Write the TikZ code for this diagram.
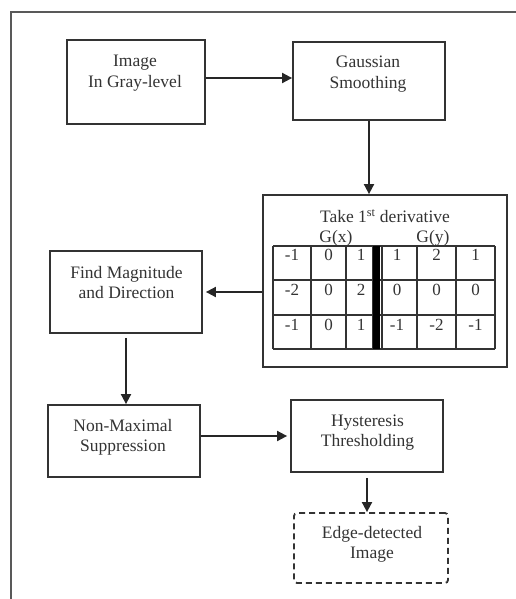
\documentclass[tikz,border=0pt]{standalone}
\usepackage{fontspec}
\setmainfont{Liberation Serif}
\usetikzlibrary{arrows.meta}
\begin{document}
\begin{tikzpicture}[x=1pt,y=-1pt,
  box/.style={draw=black!80, line width=1.8pt, inner sep=0pt},
  lbl/.style={font=\fontsize{17.5}{20.5}\selectfont, text=black!80, align=center, inner sep=0pt},
  arr/.style={draw=black!85, line width=1.8pt, -{Triangle[length=10pt,width=10pt]}},
  tline/.style={draw=black!80, line width=1.4pt},
  frame/.style={draw=black!65, line width=1.8pt},
  num/.style={font=\fontsize{17}{20}\selectfont, text=black!80, inner sep=0pt, anchor=center}]
\useasboundingbox (0,0) rectangle (515,599);
% outer frame
\draw[frame] (11,599) -- (11,12) -- (516,12);
% boxes
\node[box, minimum width=138pt, minimum height=84pt] (img) at (136,82) {};
\node[box, minimum width=152pt, minimum height=78pt] (gauss) at (369,81) {};
\node[box, minimum width=244pt, minimum height=172pt] (deriv) at (385,281) {};
\node[box, minimum width=152pt, minimum height=82pt] (find) at (126,292) {};
\node[box, minimum width=152pt, minimum height=72pt] (nonmax) at (124,441) {};
\node[box, minimum width=152pt, minimum height=72pt] (hyst) at (367,436) {};
\node[box, dashed, dash pattern=on 6pt off 4pt, rounded corners=3pt, minimum width=154pt, minimum height=70pt] (edge) at (371,548) {};
% labels
\node[lbl] (imgL) at (135,73) {Image\\In Gray-level};
\node[lbl] (gaussL) at (368,74) {Gaussian\\Smoothing};
\node[lbl] (findL) at (126.5,282.5) {Find Magnitude\\and Direction};
\node[lbl] (nonmaxL) at (123,437.5) {Non-Maximal\\Suppression};
\node[lbl] (hystL) at (367.5,432.5) {Hysteresis\\Thresholding};
\node[lbl] (edgeL) at (372,544.5) {Edge-detected\\Image};
\node[lbl] (title) at (385,216) {Take 1\textsuperscript{st} derivative};
\node[lbl] (gx) at (336,238) {G(x)};
\node[lbl] (gy) at (433,238) {G(y)};
% table
\foreach \yy in {246,280,315,349} \draw[tline] (273,\yy) -- (495,\yy);
\foreach \xx in {273,311,346,373,382,417,456,495} \draw[tline] (\xx,246) -- (\xx,349);
\fill[black] (373,246) rectangle (380,349);
% numbers
\foreach \v [count=\i] in {-1,0,1,1,2,1} {
  \pgfmathsetmacro{\cx}{{292,328.5,361,397,436.5,475.5}[\i-1]}
  \node[num] (ra\i) at (\cx,255) {\v};
}
\foreach \v [count=\i] in {-2,0,2,0,0,0} {
  \pgfmathsetmacro{\cx}{{292,328.5,361,397,436.5,475.5}[\i-1]}
  \node[num] (rb\i) at (\cx,290) {\v};
}
\foreach \v [count=\i] in {-1,0,1,-1,-2,-1} {
  \pgfmathsetmacro{\cx}{{292,328.5,361,397,436.5,475.5}[\i-1]}
  \node[num] (rc\i) at (\cx,325) {\v};
}
% connectors
\draw[arr] ([yshift=4pt]img.east) -- ([yshift=4pt]img.east -| gauss.west);
\draw[arr] (gauss.south) -- (gauss.south |- deriv.north);
\draw[arr, shorten >=3pt] (deriv.west |- find.east) -- (find.east);
\draw[arr, shorten <=4pt] (find.south) -- (find.south |- nonmax.north);
\draw[arr, shorten >=3pt] (nonmax.east |- hyst.west) -- (hyst.west);
\draw[arr, shorten <=5pt] (hyst.south) -- (hyst.south |- edge.north);
\end{tikzpicture}
\end{document}
